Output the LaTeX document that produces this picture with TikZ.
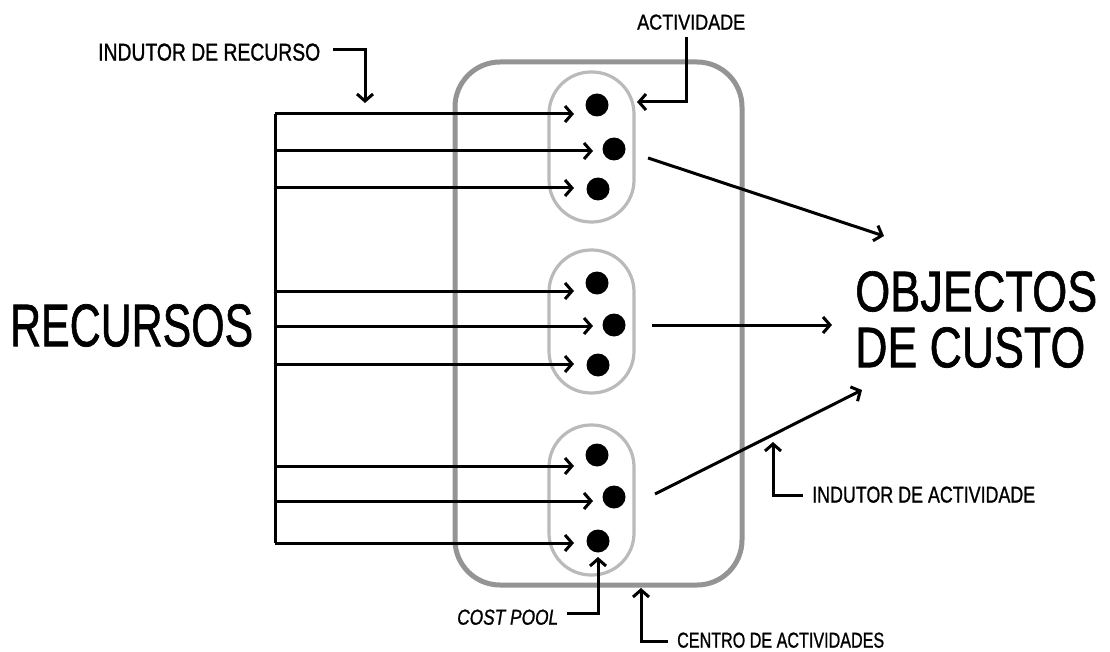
\documentclass[tikz,border=0pt]{standalone}
\usepackage{fontspec}
\usepackage{graphicx}
\setmainfont{Liberation Sans}[FakeBold=1.2]
\usetikzlibrary{arrows.meta}
\tikzset{
  conn/.style={line width=3pt, -{Straight Barb[length=7pt,width=16pt,line width=3pt]}},
  plain/.style={line width=3pt},
  bigbox/.style={draw=black!42, line width=5pt, rounded corners=45pt, minimum width=287pt, minimum height=523pt, inner sep=0pt},
  capsule/.style={draw=black!27, line width=3.2pt, rounded corners=42pt, minimum width=85pt, inner sep=0pt},
  dot/.style={circle, fill=black, minimum size=23pt, inner sep=0pt},
  lbl/.style={inner sep=0pt, anchor=south west}
}
\begin{document}
\begin{tikzpicture}[x=1pt,y=-1pt]
\useasboundingbox (0,0) rectangle (1110,652);
% activity centre
\node[bigbox] (centre) at (598.5,323.5) {};
% capsules (cost pools)
\node[capsule, minimum height=150pt] (capA) at (591.5,147) {};
\node[capsule, minimum height=143pt] (capB) at (591.5,321.5) {};
\node[capsule, minimum height=150pt] (capC) at (591.5,500) {};
% dots (activities)
\node[dot] (a1) at (597,105) {};
\node[dot] (a2) at (614,149) {};
\node[dot] (a3) at (598,189) {};
\node[dot] (b1) at (597,283) {};
\node[dot] (b2) at (614,325) {};
\node[dot] (b3) at (598,365) {};
\node[dot] (c1) at (597,455) {};
\node[dot] (c2) at (614,497) {};
\node[dot] (c3) at (598,541) {};
% resource bus
\coordinate (busTop) at (275,114);
\coordinate (busBot) at (275,543);
\draw[plain] (busTop) -- (busBot);
\foreach \d/\y/\t in {a1/114/574, a2/151/593, a3/188/574, b1/291/574, b2/326/593, b3/364/574, c1/466/574, c2/501/593, c3/543/574}{
  \coordinate (s\d) at (275,\y);
  \coordinate (e\d) at (\t,\y);
  \draw[conn] (s\d) -- (e\d);
}
% big labels
\node[lbl] (recursos) at (10,347) {\resizebox{243pt}{42pt}{RECURSOS}};
\node[lbl] (obj1) at (855,312) {\resizebox{242pt}{40pt}{OBJECTOS}};
\node[lbl] (obj2) at (855,368) {\resizebox{230pt}{40pt}{DE CUSTO}};
% activity drivers
\coordinate (o1s) at (648,158);
\coordinate (o1e) at (884,236);
\coordinate (o2s) at (652,325);
\coordinate (o2e) at (832,325);
\coordinate (o3s) at (655,494);
\coordinate (o3e) at (862,390);
\draw[conn] (o1s) -- (o1e);
\draw[conn] (o2s) -- (o2e);
\draw[conn] (o3s) -- (o3e);
% small labels
\node[lbl] (indrec) at (98,61) {\resizebox{222pt}{17pt}{INDUTOR DE RECURSO}};
\node[lbl] (activ) at (637,30) {\resizebox{108pt}{15pt}{ACTIVIDADE}};
\node[lbl] (indact) at (812,503) {\resizebox{223pt}{16pt}{INDUTOR DE ACTIVIDADE}};
\node[lbl] (centro) at (677,648) {\resizebox{207pt}{15pt}{CENTRO DE ACTIVIDADES}};
\node[lbl] (cpool) at (457,625) {\resizebox{101pt}{15pt}{\itshape COST POOL}};
% label pointers
\coordinate (irA) at (333,50);
\coordinate (irB) at (365,103);
\draw[conn] (irA) -| (irB);
\coordinate (acA) at (686,37);
\coordinate (acB) at (637,102);
\draw[conn] (acA) |- (acB);
\coordinate (cpA) at (567,613);
\coordinate (cpB) at (598,557);
\draw[conn] (cpA) -| (cpB);
\coordinate (ceA) at (668,641);
\coordinate (ceB) at (641,588);
\draw[conn] (ceA) -| (ceB);
\coordinate (iaA) at (803,495);
\coordinate (iaB) at (773,442);
\draw[conn] (iaA) -| (iaB);
\end{tikzpicture}
\end{document}
